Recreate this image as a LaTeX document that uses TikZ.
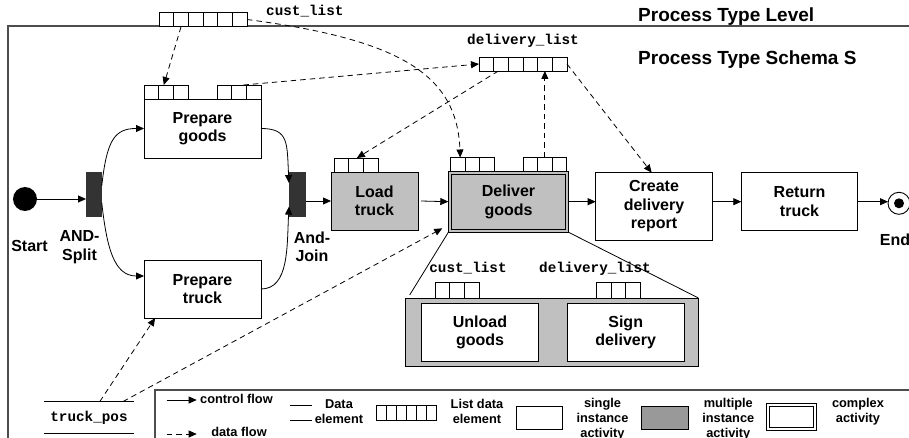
\documentclass[tikz,border=0pt]{standalone}
\usepackage{fontspec}
\setmainfont{Liberation Sans}
\setmonofont{Liberation Mono}
\usetikzlibrary{arrows.meta,calc}
\definecolor{actgray}{HTML}{C0C0C0}
\definecolor{bardark}{HTML}{333333}
\definecolor{leggray}{HTML}{999999}
\definecolor{framegray}{HTML}{4D4D4D}
\newcommand\actfont{\bfseries\fontsize{16}{18.5}\selectfont}
\newcommand\legfont{\bfseries\fontsize{12.8}{14.8}\selectfont}
\newcommand\titlefont{\bfseries\fontsize{19}{22}\selectfont}
\newcommand\lblmono{\ttfamily\bfseries\fontsize{14.3}{16}\selectfont}
\newcommand\cellsplit[2]{%
  \pgfmathtruncatemacro\cellsN{#2-1}%
  \foreach \i in {1,...,\cellsN}{\draw[line width=0.8pt] ($(#1.south west)!\i/#2!(#1.south east)$) -- ($(#1.north west)!\i/#2!(#1.north east)$);}%
}
\begin{document}
\begin{tikzpicture}[x=1pt,y=-1pt,
  act/.style={draw=black, line width=0.9pt, fill=white, inner sep=0pt, outer sep=0pt, align=center, font=\actfont},
  multi/.style={act, fill=actgray},
  cellgrp/.style={draw=black, line width=0.8pt, fill=white, inner sep=0pt, outer sep=0pt},
  bar/.style={fill=bardark, draw=none, inner sep=0pt, outer sep=0pt},
  ctrl/.style={line width=0.8pt, -{Triangle[length=8pt,width=7pt]}},
  dflow/.style={line width=0.8pt, dash pattern=on 5.5pt off 4pt, -{Triangle[length=8pt,width=7pt]}},
  frameline/.style={line width=1.2pt, draw=framegray},
  lbl/.style={font=\actfont, align=center, inner sep=0pt},
  leg/.style={font=\legfont, align=center, inner sep=0pt},
  mono/.style={font=\lblmono, inner sep=0pt},
  thin/.style={line width=0.8pt},
]
\useasboundingbox (0,0) rectangle (909,438);
\clip (0,0) rectangle (909,438);

% frames
\draw[frameline] (909,26) -- (8,26) -- (8,438);
\draw[frameline] (909,390) -- (155,390) -- (155,438);

% titles
\node[font=\titlefont, anchor=base west, inner sep=0pt] (ttl) at (638,21.7) {Process Type Level};
\node[font=\titlefont, anchor=base west, inner sep=0pt] (schema) at (638,64.5) {Process Type Schema S};

% start / end
\node[circle, fill=black, minimum size=24pt, inner sep=0pt, outer sep=0pt] (start) at (25,199) {};
\node[lbl, anchor=base] (startl) at (29.5,251.5) {Start};
\node[circle, draw=black, line width=0.9pt, fill=white, minimum size=22pt, inner sep=0pt, outer sep=0pt] (end) at (899,203.3) {};
\node[circle, fill=black, minimum size=10pt, inner sep=0pt] (enddot) at (end.center) {};
\node[lbl] (endl) at (895,240) {End};

% bars
\node[bar, minimum width=15.7pt, minimum height=44.7pt] (split) at (93.9,194.3) {};
\node[bar, minimum width=16.7pt, minimum height=44.7pt] (join) at (297.3,194.3) {};
\node[lbl] (splitl) at (79.5,247) {AND-\\Split};
\node[lbl] (joinl) at (312,247) {And-\\Join};

% activities
\node[act, minimum width=117pt, minimum height=59pt] (pg) at (202.5,128.5) {Prepare\\goods};
\node[act, minimum width=117pt, minimum height=58pt] (pt) at (202.5,289) {Prepare\\truck};
\node[multi, minimum width=87pt, minimum height=58pt] (lt) at (374.5,201) {Load\\truck};
\node[multi, minimum width=120.4pt, minimum height=61.3pt] (dg) at (508.5,201.7) {Deliver\\goods};
\draw[line width=0.9pt] ($(dg.south west)+(3.3,-3.3)$) rectangle ($(dg.north east)+(-3.3,3.3)$);
\node[act, minimum width=116.6pt, minimum height=67.3pt] (cd) at (654,206.3) {Create\\delivery\\report};
\node[act, minimum width=116.4pt, minimum height=58pt] (rt) at (799.5,201.7) {Return\\truck};

% sub process
\node[multi, minimum width=292.6pt, minimum height=68.7pt] (sub) at (552,332.3) {};
\node[act, minimum width=116.6pt, minimum height=58.4pt] (ug) at (480,332.5) {Unload\\goods};
\node[act, minimum width=116.7pt, minimum height=58.4pt] (sd) at (625.7,332.5) {Sign\\delivery};

% list data elements
\node[cellgrp, minimum width=88pt, minimum height=14.7pt] (cl) at (203,19.5) {};
\cellsplit{cl}{6}
\node[mono, anchor=base west] (cll) at (266,16) {cust\_list};
\node[cellgrp, minimum width=88pt, minimum height=14pt] (dl) at (523,64) {};
\cellsplit{dl}{6}
\node[mono, anchor=base] (dll) at (523,45) {delivery\_list};

\node[cellgrp, minimum width=44pt, minimum height=14pt] (pgL) at (166,92) {};
\cellsplit{pgL}{3}
\node[cellgrp, minimum width=44pt, minimum height=14pt] (pgR) at (239,92) {};
\cellsplit{pgR}{3}
\node[cellgrp, minimum width=44pt, minimum height=14pt] (ltC) at (356,165) {};
\cellsplit{ltC}{3}
\node[cellgrp, minimum width=43.5pt, minimum height=13.5pt] (dgL) at (472.4,164.25) {};
\cellsplit{dgL}{3}
\node[cellgrp, minimum width=43.7pt, minimum height=13.5pt] (dgR) at (544.85,164.25) {};
\cellsplit{dgR}{3}
\node[cellgrp, minimum width=44.3pt, minimum height=15.7pt] (ugC) at (457.2,290.15) {};
\cellsplit{ugC}{3}
\node[cellgrp, minimum width=44.7pt, minimum height=15.7pt] (sdC) at (618.35,290.15) {};
\cellsplit{sdC}{3}
\node[mono, anchor=base] (ugl) at (468,272.5) {cust\_list};
\node[mono, anchor=base] (sdl) at (595,272.5) {delivery\_list};

% truck_pos data element
\node[mono, minimum width=90pt, minimum height=31.6pt] (tp) at (89,417.5) {truck\_pos};
\draw[thin] (tp.north west) -- (tp.north east);
\draw[thin] (tp.south west) -- (tp.south east);

% expansion lines
\draw[thin] (dg.south west) -- ($(sub.north west)+(4,-3)$);
\draw[thin] (dg.south east) -- (sub.north east);

% control flow
\draw[ctrl] (start.east) -- (start.east -| split.west);
\draw[ctrl] ($(split.north east)+(0,14)$) .. controls +(5,-45) and +(-30,0) .. (pg.west);
\draw[ctrl] ($(split.south east)+(0,-14)$) .. controls +(5,45) and +(-30,0) .. ($(pt.west)+(0,-13)$);
\draw[ctrl] (pg.east) .. controls +(28,0) and +(-2,-40) .. ($(join.north west)+(0,11)$);
\draw[ctrl] (pt.east) .. controls +(28,0) and +(-2,40) .. ($(join.south west)+(0,-10)$);
\draw[ctrl] (join.east |- lt.west) -- (lt.west);
\draw[ctrl] ($(lt.east)+(3,0)$) -- (dg.west);
\draw[ctrl] (dg.east) -- (dg.east -| cd.west);
\draw[ctrl] (cd.east |- rt.west) -- (rt.west);
\draw[ctrl] (rt.east) -- (rt.east -| end.west);

% data flow
\draw[dflow] ($(cl.south west)!0.25!(cl.south east)$) -- ($(pgL.north west)!0.45!(pgL.north east)$);
\draw[dflow] (cl.east) .. controls +(153,20) and +(-3,-83) .. ($(dgL.north west)!0.22!(dgL.north east)$);
\draw[dflow] ($(pgR.north west)!0.6!(pgR.north east)$) -- (dl.west);
\draw[dflow] ($(dl.south west)!0.22!(dl.south east)$) -- ($(ltC.north west)!0.52!(ltC.north east)$);
\draw[dflow] (dgR.north) -- (dgR.north |- dl.south);
\draw[dflow] (dl.east) -- ($(cd.north west)!0.48!(cd.north east)$);
\draw[dflow] ($(tp.north west)!0.62!(tp.north east)$) -- ($(pt.south west)!0.095!(pt.south east)$);
\draw[dflow] ($(tp.north west)!0.877!(tp.north east)$) -- ($(dg.south west)+(-6,-4)$);

% legend
\coordinate (lc1) at (166.7,400);
\coordinate (lc2) at (196.7,400);
\draw[ctrl] (lc1) -- (lc2);
\node[leg, anchor=west] (lcl) at (200,399) {control flow};
\coordinate (ld1) at (166.7,434);
\coordinate (ld2) at (196.7,434);
\draw[dflow] (ld1) -- (ld2);
\node[leg] (ldl) at (239,432) {data flow};

\coordinate (de1) at (290,405);
\coordinate (de2) at (312,405);
\coordinate (de3) at (290,420);
\coordinate (de4) at (312,420);
\draw[thin] (de1) -- (de2);
\draw[thin] (de3) -- (de4);
\node[leg] (del) at (339,412) {Data\\element};

\node[cellgrp, minimum width=60pt, minimum height=15pt] (lg) at (406.7,412.5) {};
\cellsplit{lg}{6}
\node[leg] (lgl) at (477,411.8) {List data\\element};

\node[cellgrp, line width=0.9pt, minimum width=46.7pt, minimum height=23.3pt] (ls) at (539.35,417.65) {};
\node[leg] (lsl) at (602.5,419) {single\\instance\\activity};
\node[cellgrp, line width=0.9pt, fill=leggray, minimum width=46.6pt, minimum height=23.3pt] (lm) at (665,417.65) {};
\node[leg] (lml) at (728.3,419) {multiple\\instance\\activity};
\node[cellgrp, line width=0.9pt, minimum width=50.7pt, minimum height=27.4pt] (lx) at (791.35,417) {};
\draw[line width=0.9pt] ($(lx.south west)+(3.3,-3.3)$) rectangle ($(lx.north east)+(-3.3,3.3)$);
\node[leg] (lxl) at (858,411.8) {complex\\activity};
\end{tikzpicture}
\end{document}
